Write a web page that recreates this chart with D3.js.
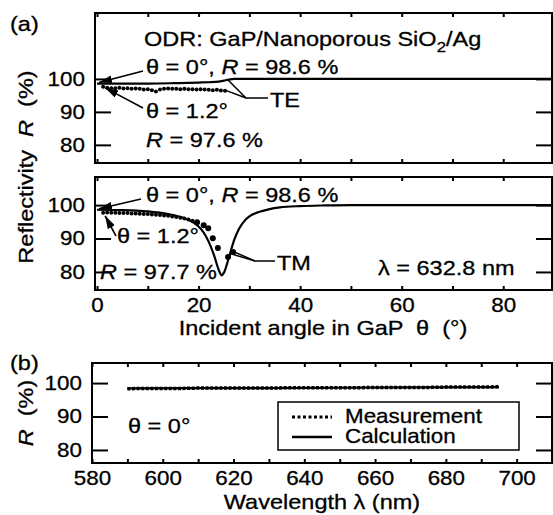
<!DOCTYPE html>
<html>
<head>
<meta charset="utf-8">
<script src="https://cdn.jsdelivr.net/npm/d3@7"></script>
<style>
  body { margin: 0; background: #fff; }
  text { font-family: "Liberation Sans", Arial, Helvetica, sans-serif; fill: #000; stroke: #000; stroke-width: 0.3px; }
</style>
</head>
<body>
<script>
// ---- data ----
let thetaTicks = [0, 10, 20, 30, 40, 50, 60, 70, 80]
let rTicks = [80, 90, 100]
let lambdaTicks = [580, 590, 600, 610, 620, 630, 640, 650, 660, 670, 680, 690, 700]

// (a) TE
let teCalcTheta = [0, 5, 10, 15, 18, 20, 22, 24, 25, 26, 27, 30, 40, 60, 89.6]
let teCalcR = [98.6, 98.6, 98.6, 98.7, 98.8, 98.9, 99.0, 99.2, 99.5, 99.8, 100, 100, 100, 100, 100]
let teMeasTheta = [1.2, 2, 2.8, 3.6, 4.4, 5.2, 6, 6.8, 7.6, 8.4, 9.2, 10, 10.8, 11.6, 12.4, 13.2, 14, 14.8, 15.6, 16.4, 17.2, 18, 18.8, 19.6, 20.4, 21.2, 22, 22.8, 23.6, 24.4, 25.2]
let teMeasR = [97.6, 97.3, 97.2, 97.2, 97.3, 97.1, 97.2, 97.0, 97.1, 97.0, 96.8, 96.9, 96.6, 96.2, 96.8, 97.0, 97.1, 97.0, 97.0, 96.9, 97.0, 96.9, 96.9, 96.8, 96.9, 96.8, 96.7, 96.6, 96.7, 96.5, 96.4]

// (a) TM
let tmCalcTheta = [0, 5, 10, 14, 17, 19, 20, 21, 22, 23, 24, 24.5, 25, 26, 27, 28, 29, 30, 32, 34, 36, 40, 45, 50, 89.6]
let tmCalcR = [98.6, 98.5, 98.1, 97.3, 96.2, 94.8, 93.6, 91.8, 89.0, 85.2, 80.5, 79.0, 79.8, 84.5, 89.5, 93.0, 95.2, 96.6, 98.0, 98.8, 99.3, 99.7, 99.9, 100, 100]
let tmMeasTheta = [1.2, 2, 2.8, 3.6, 4.4, 5.2, 6, 6.8, 7.6, 8.4, 9.2, 10, 10.8, 11.6, 12.4, 13.2, 14, 14.8, 15.6, 16.4, 17.2, 18, 18.8, 19.7, 21.0, 21.9, 22.8, 23.8, 25.8, 26.8]
let tmMeasR = [97.7, 97.8, 97.7, 97.7, 97.6, 97.6, 97.6, 97.5, 97.5, 97.4, 97.3, 97.3, 97.2, 97.1, 97.0, 96.9, 96.8, 96.6, 96.4, 96.2, 96.0, 95.7, 95.3, 94.9, 94.0, 93.1, 90.1, 87.2, 84.5, 86.0]

// (b) normal incidence spectrum
let bCalcLambda = [590, 610, 630, 650, 670, 695]
let bCalcR = [98.4, 98.5, 98.5, 98.6, 98.7, 98.8]
let bMeasLambda = [590, 595, 600, 605, 610, 615, 620, 625, 630, 635, 640, 645, 650, 655, 660, 665, 670, 675, 680, 685, 690, 695]
let bMeasR = [98.3, 98.4, 98.4, 98.4, 98.5, 98.5, 98.5, 98.5, 98.5, 98.6, 98.6, 98.6, 98.6, 98.6, 98.7, 98.7, 98.7, 98.7, 98.8, 98.8, 98.8, 98.9]

let legendNames = ['Measurement', 'Calculation']

// ---- drawing ----
let W = 553, H = 515
let tickFs = 20
let stretch = 'scale(1.12,1)'   // the original lettering is a little wide

let svg = d3.select('body').append('svg').attr('width', W).attr('height', H)

svg.append('defs').append('marker')
  .attr('id', 'arrow')
  .attr('viewBox', '0 0 13 8')
  .attr('refX', 13).attr('refY', 4)
  .attr('markerWidth', 13).attr('markerHeight', 8)
  .attr('markerUnits', 'userSpaceOnUse')
  .attr('orient', 'auto')
  .append('path').attr('d', 'M0,0 L13,4 L0,8 Z').attr('fill', '#000')

let styleAxis = (g) => {
  g.select('.domain').remove()
  g.selectAll('.tick line').attr('stroke', '#000').attr('stroke-width', 2)
  g.selectAll('.tick text').style('font-size', tickFs + 'px').attr('fill', '#000')
    .style('font-family', '"Liberation Sans", Arial, sans-serif')
    .attr('transform', stretch)
}

let makePanel = (o) => {
  let x = d3.scaleLinear().domain(o.xDomain).range([o.left, o.right])
  let y = d3.scaleLinear().domain(o.yDomain).range([o.bottom, o.top])
  let g = svg.append('g')

  g.append('g').attr('transform', 'translate(0,' + o.bottom + ')')
    .call(d3.axisBottom(x).tickValues(o.xTicks).tickSize(-4).tickPadding(8)
      .tickFormat(d => (o.xLabels && d % 20 === 0) ? d : ''))
    .call(styleAxis)
  g.append('g').attr('transform', 'translate(0,' + o.top + ')')
    .call(d3.axisTop(x).tickValues(o.xTicks).tickSize(-4).tickFormat(''))
    .call(styleAxis)
  g.append('g').attr('transform', 'translate(' + o.left + ',0)')
    .call(d3.axisLeft(y).tickValues(rTicks).tickSize(-16).tickPadding(9))
    .call(styleAxis)
  g.append('g').attr('transform', 'translate(' + o.right + ',0)')
    .call(d3.axisRight(y).tickValues(rTicks).tickSize(-16).tickFormat(''))
    .call(styleAxis)

  g.append('rect')
    .attr('x', o.left).attr('y', o.top)
    .attr('width', o.right - o.left).attr('height', o.bottom - o.top)
    .attr('fill', 'none').attr('stroke', '#000').attr('stroke-width', 2)
  return { x, y, g }
}

let drawLine = (p, xs, ys, curve) => {
  p.g.append('path')
    .datum(xs.map((v, i) => [v, ys[i]]))
    .attr('fill', 'none').attr('stroke', '#000').attr('stroke-width', 2.2)
    .attr('d', d3.line().x(d => p.x(d[0])).y(d => p.y(d[1])).curve(curve || d3.curveMonotoneX))
}

let drawDots = (p, xs, ys) => {
  p.g.selectAll(null)
    .data(xs.map((v, i) => [v, ys[i]]))
    .enter().append('circle')
    .attr('cx', d => p.x(d[0])).attr('cy', d => p.y(d[1]))
    .attr('r', d => d[1] < 95 ? 3 : 2)
    .attr('fill', '#000')
}

// rich text helper: parts = [[string, italic, subscript, back-up]]
let rich = (x, y, parts, opt) => {
  opt = opt || {}
  let tr = 'translate(' + x + ',' + y + ')' + (opt.rotate ? ' rotate(-90)' : '') + ' ' + stretch
  let t = svg.append('g').attr('transform', tr).append('text')
    .style('font-size', (opt.size || 21) + 'px')
    .attr('text-anchor', opt.anchor || 'start')
    .attr('xml:space', 'preserve')
  parts.forEach(pt => {
    let s = t.append('tspan').text(pt[0])
    if (pt[1]) s.style('font-style', 'italic')
    if (pt[2]) s.style('font-size', '15px').attr('dy', 6)
    if (pt[3]) s.attr('dy', -6)
  })
  return t
}

let arrow = (x1, y1, x2, y2) => {
  svg.append('line').attr('x1', x1).attr('y1', y1).attr('x2', x2).attr('y2', y2)
    .attr('stroke', '#000').attr('stroke-width', 1.6).attr('marker-end', 'url(#arrow)')
}

let leader = (pts) => {
  svg.append('path').attr('d', d3.line()(pts))
    .attr('fill', 'none').attr('stroke', '#000').attr('stroke-width', 1.5)
}

// panel (a) TE
let te = makePanel({ left: 95, right: 552, top: 13, bottom: 163,
  xDomain: [-0.4, 89.6], yDomain: [74.5, 120], xTicks: thetaTicks, xLabels: false })
drawLine(te, teCalcTheta, teCalcR)
drawDots(te, teMeasTheta, teMeasR)

// panel (a) TM
let tm = makePanel({ left: 95, right: 552, top: 177, bottom: 290,
  xDomain: [-0.4, 89.6], yDomain: [74.6, 108.4], xTicks: thetaTicks, xLabels: true })
drawLine(tm, tmCalcTheta, tmCalcR)
drawDots(tm, tmMeasTheta, tmMeasR)

// panel (b)
let pb = makePanel({ left: 92, right: 552, top: 363, bottom: 463,
  xDomain: [580, 710], yDomain: [76.1, 106], xTicks: lambdaTicks, xLabels: true })
drawLine(pb, bCalcLambda, bCalcR, d3.curveLinear)
pb.g.append('path')
  .datum(bMeasLambda.map((v, i) => [v, bMeasR[i]]))
  .attr('fill', 'none').attr('stroke', '#000').attr('stroke-width', 3.5)
  .attr('stroke-dasharray', '3,1.6')
  .attr('d', d3.line().x(d => pb.x(d[0])).y(d => pb.y(d[1])))

// legend
let lg = svg.append('g')
lg.append('rect').attr('x', 278).attr('y', 402).attr('width', 241).attr('height', 48)
  .attr('fill', '#fff').attr('stroke', '#000').attr('stroke-width', 1.5)
lg.append('line').attr('x1', 292).attr('x2', 332).attr('y1', 417).attr('y2', 417)
  .attr('stroke', '#000').attr('stroke-width', 3).attr('stroke-dasharray', '3,2.5')
lg.append('line').attr('x1', 292).attr('x2', 332).attr('y1', 437).attr('y2', 437)
  .attr('stroke', '#000').attr('stroke-width', 2.5)
legendNames.forEach((d, i) => rich(345, 423 + i * 20, [[d]], { size: 20 }))

// annotations (a) TE
rich(10, 31, [['(a)']])
rich(144, 46, [['ODR: GaP/Nanoporous SiO'], ['2', false, true], ['/Ag', false, false, true]])
rich(146, 74, [['\u03b8 = 0\u00b0, '], ['R', true], [' = 98.6 %']])
rich(146, 118, [['\u03b8 = 1.2\u00b0']])
rich(146, 147, [['R', true], [' = 97.6 %']])
rich(270, 107, [['TE']])
arrow(143, 71, te.x(0.4), te.y(teCalcR[0]) - 1)
arrow(143, 108, te.x(teMeasTheta[0]) + 2, te.y(teMeasR[0]) + 1)
leader([[te.x(25.8), te.y(99.7)], [246, 98], [268, 98]])
leader([[te.x(25.2), te.y(96.6)], [246, 98]])

// annotations (a) TM
rich(146, 202, [['\u03b8 = 0\u00b0, '], ['R', true], [' = 98.6 %']])
rich(117, 243, [['\u03b8 = 1.2\u00b0']])
rich(100, 279, [['R', true], [' = 97.7 %']])
rich(277, 270, [['TM']])
rich(378, 275, [['\u03bb = 632.8 nm']])
arrow(141, 199, tm.x(0.4), tm.y(tmCalcR[0]) - 1)
arrow(116, 236, tm.x(tmMeasTheta[0]) + 2, tm.y(tmMeasR[0]) + 3)
leader([[tm.x(26.2), tm.y(85.5)], [255, 261], [275, 261]])
leader([[tm.x(27.0), tm.y(86.0)], [255, 261]])

// axis titles
rich(323, 335, [['Incident angle in GaP  \u03b8  (\u00b0)']], { anchor: 'middle' })
rich(33, 167, [['Reflectivity  '], ['R', true], ['  (%)']], { anchor: 'middle', rotate: true })

// (b) texts
rich(10, 370, [['(b)']])
rich(128, 433, [['\u03b8 = 0\u00b0']])
rich(322, 509, [['Wavelength \u03bb (nm)']], { anchor: 'middle' })
rich(33, 413, [['R', true], ['  (%)']], { anchor: 'middle', rotate: true })
</script>
</body>
</html>
